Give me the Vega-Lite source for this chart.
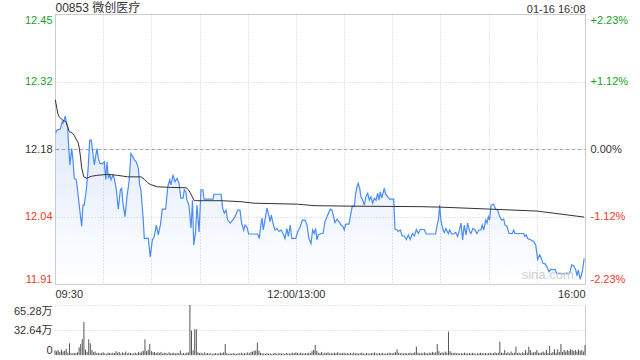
{
 "$schema": "https://vega.github.io/schema/vega-lite/v6.json",
 "background": "white",
 "padding": {"left": 13, "top": 0, "right": 5, "bottom": 4},
 "spacing": 21,
 "bounds": "flush",
 "config": {
  "font": "Liberation Sans",
  "view": {"stroke": "#cccccc"},
  "axis": {"labelFont": "Liberation Sans, Noto Sans CJK SC", "labelFontSize": 11, "labelColor": "#333333", "title": null, "ticks": false, "domain": false}
 },
 "datasets": {
  "price": [
   {"t":0.4,"p":12.212},{"t":1.2,"p":12.218},{"t":3.3,"p":12.220},{"t":4.4,"p":12.235},{"t":5.0,"p":12.232},{"t":5.8,"p":12.240},{"t":6.4,"p":12.246},{"t":7.0,"p":12.235},{"t":7.9,"p":12.225},{"t":8.5,"p":12.185},
   {"t":9.3,"p":12.148},{"t":10.4,"p":12.181},{"t":11.2,"p":12.158},{"t":12.0,"p":12.121},{"t":13.3,"p":12.118},{"t":14.5,"p":12.084},{"t":15.8,"p":12.047},{"t":16.6,"p":12.024},{"t":17.4,"p":12.067},{"t":18.2,"p":12.067},
   {"t":19.5,"p":12.098},{"t":20.7,"p":12.144},{"t":21.6,"p":12.198},{"t":22.6,"p":12.198},{"t":23.7,"p":12.168},{"t":24.5,"p":12.148},{"t":25.3,"p":12.165},{"t":26.1,"p":12.181},{"t":27.0,"p":12.161},{"t":28.0,"p":12.151},
   {"t":29.4,"p":12.150},{"t":30.7,"p":12.154},{"t":31.6,"p":12.118},{"t":32.4,"p":12.154},{"t":33.2,"p":12.121},{"t":34.1,"p":12.128},{"t":34.9,"p":12.118},{"t":36.1,"p":12.128},{"t":36.9,"p":12.121},{"t":38.2,"p":12.098},
   {"t":39.4,"p":12.059},{"t":40.7,"p":12.098},{"t":41.5,"p":12.101},{"t":42.3,"p":12.071},{"t":43.6,"p":12.044},{"t":44.8,"p":12.084},{"t":46.1,"p":12.114},{"t":47.3,"p":12.171},{"t":48.4,"p":12.165},{"t":49.4,"p":12.158},
   {"t":50.6,"p":12.154},{"t":51.9,"p":12.141},{"t":52.7,"p":12.108},{"t":53.5,"p":12.098},{"t":54.8,"p":12.044},{"t":55.6,"p":12.000},{"t":58.1,"p":12.000},{"t":59.3,"p":11.963},{"t":60.6,"p":11.997},{"t":61.8,"p":12.004},
   {"t":63.1,"p":12.027},{"t":64.3,"p":12.007},{"t":65.6,"p":12.027},{"t":66.8,"p":12.059},{"t":68.9,"p":12.059},{"t":70.2,"p":12.104},{"t":71.4,"p":12.118},{"t":72.2,"p":12.108},{"t":73.5,"p":12.128},{"t":74.7,"p":12.114},
   {"t":76.0,"p":12.121},{"t":77.2,"p":12.111},{"t":78.4,"p":12.081},{"t":79.7,"p":12.081},{"t":80.5,"p":12.098},{"t":81.4,"p":12.094},{"t":82.2,"p":12.077},{"t":83.4,"p":12.067},{"t":84.7,"p":12.021},{"t":85.6,"p":12.077},
   {"t":86.4,"p":11.987},{"t":87.5,"p":12.013},{"t":88.4,"p":12.067},{"t":89.7,"p":12.013},{"t":90.9,"p":12.098},{"t":92.1,"p":12.098},{"t":92.8,"p":12.079},{"t":98.4,"p":12.079},{"t":99.0,"p":12.089},{"t":103.4,"p":12.089},
   {"t":104.4,"p":12.061},{"t":105.4,"p":12.051},{"t":106.5,"p":12.057},{"t":107.5,"p":12.037},{"t":109.1,"p":12.031},{"t":110.6,"p":12.037},{"t":112.1,"p":12.044},{"t":113.8,"p":12.057},{"t":115.2,"p":12.057},{"t":116.2,"p":12.031},
   {"t":117.5,"p":12.017},{"t":118.3,"p":12.027},{"t":119.4,"p":12.024},{"t":120.6,"p":12.009},{"t":126.2,"p":12.009},{"t":127.2,"p":12.000},{"t":128.3,"p":12.031},{"t":128.9,"p":12.041},{"t":129.7,"p":12.017},{"t":130.7,"p":12.037},
   {"t":132.0,"p":12.061},{"t":132.8,"p":12.051},{"t":133.9,"p":12.034},{"t":134.7,"p":12.047},{"t":135.7,"p":12.031},{"t":137.0,"p":12.017},{"t":138.2,"p":12.020},{"t":139.5,"p":12.014},{"t":140.7,"p":12.017},{"t":142.0,"p":12.010},
   {"t":143.2,"p":12.000},{"t":144.4,"p":12.020},{"t":145.3,"p":12.004},{"t":146.5,"p":12.027},{"t":147.4,"p":12.000},{"t":150.0,"p":12.000},{"t":151.1,"p":12.014},{"t":152.3,"p":12.020},{"t":154.0,"p":12.037},{"t":155.7,"p":12.037},
   {"t":156.9,"p":12.027},{"t":158.1,"p":12.000},{"t":159.4,"p":11.990},{"t":160.4,"p":12.017},{"t":161.4,"p":12.010},{"t":162.3,"p":12.020},{"t":163.1,"p":11.997},{"t":163.9,"p":12.007},{"t":165.6,"p":12.010},{"t":166.9,"p":12.010},
   {"t":168.1,"p":12.034},{"t":169.8,"p":12.047},{"t":171.4,"p":12.059},{"t":172.5,"p":12.057},{"t":173.5,"p":12.044},{"t":174.3,"p":12.032},{"t":175.6,"p":12.039},{"t":176.8,"p":12.034},{"t":178.1,"p":12.027},{"t":179.3,"p":12.024},
   {"t":180.1,"p":12.017},{"t":181.0,"p":12.029},{"t":183.0,"p":12.029},{"t":183.9,"p":12.044},{"t":185.1,"p":12.065},{"t":186.4,"p":12.065},{"t":187.2,"p":12.091},{"t":188.0,"p":12.104},{"t":188.8,"p":12.111},{"t":189.7,"p":12.101},
   {"t":190.5,"p":12.084},{"t":191.6,"p":12.077},{"t":192.6,"p":12.067},{"t":193.6,"p":12.084},{"t":194.7,"p":12.091},{"t":195.7,"p":12.077},{"t":196.7,"p":12.084},{"t":197.8,"p":12.071},{"t":198.8,"p":12.081},{"t":199.9,"p":12.077},
   {"t":200.9,"p":12.091},{"t":201.7,"p":12.077},{"t":202.5,"p":12.094},{"t":203.4,"p":12.081},{"t":204.2,"p":12.091},{"t":205.0,"p":12.101},{"t":205.9,"p":12.089},{"t":207.1,"p":12.084},{"t":208.4,"p":12.079},{"t":210.9,"p":12.079},
   {"t":211.7,"p":12.018},{"t":212.9,"p":12.018},{"t":213.7,"p":12.014},{"t":215.0,"p":12.017},{"t":216.2,"p":12.005},{"t":217.5,"p":12.005},{"t":218.7,"p":11.998},{"t":220.0,"p":12.007},{"t":221.2,"p":11.998},{"t":222.5,"p":12.010},
   {"t":223.7,"p":12.005},{"t":225.0,"p":12.018},{"t":226.2,"p":12.010},{"t":227.4,"p":12.018},{"t":229.9,"p":12.018},{"t":231.2,"p":12.009},{"t":237.0,"p":12.009},{"t":237.8,"p":12.025},{"t":238.9,"p":12.041},{"t":239.5,"p":12.067},
   {"t":240.3,"p":12.037},{"t":241.4,"p":12.020},{"t":242.4,"p":12.012},{"t":243.4,"p":12.020},{"t":244.9,"p":12.010},{"t":245.7,"p":12.017},{"t":247.0,"p":12.009},{"t":248.2,"p":12.009},{"t":249.5,"p":12.012},{"t":250.7,"p":12.004},
   {"t":252.0,"p":12.020},{"t":252.8,"p":12.031},{"t":253.8,"p":11.997},{"t":254.8,"p":12.027},{"t":255.9,"p":12.007},{"t":256.9,"p":12.031},{"t":258.2,"p":12.014},{"t":259.0,"p":12.010},{"t":260.2,"p":12.020},{"t":261.5,"p":12.017},
   {"t":262.7,"p":12.010},{"t":264.0,"p":12.017},{"t":265.2,"p":12.017},{"t":266.0,"p":12.027},{"t":266.9,"p":12.017},{"t":268.2,"p":12.037},{"t":269.0,"p":12.031},{"t":269.8,"p":12.044},{"t":270.6,"p":12.037},{"t":271.5,"p":12.067},
   {"t":273.1,"p":12.069},{"t":274.4,"p":12.059},{"t":275.6,"p":12.057},{"t":276.9,"p":12.044},{"t":278.1,"p":12.037},{"t":279.4,"p":12.039},{"t":280.2,"p":12.027},{"t":281.4,"p":12.025},{"t":282.7,"p":12.010},{"t":284.7,"p":12.010},
   {"t":285.6,"p":12.017},{"t":286.4,"p":12.010},{"t":291.8,"p":12.010},{"t":292.6,"p":12.004},{"t":293.4,"p":12.007},{"t":294.3,"p":12.000},{"t":296.4,"p":11.997},{"t":298.0,"p":11.994},{"t":299.3,"p":11.987},{"t":300.5,"p":11.958},
   {"t":301.8,"p":11.967},{"t":302.6,"p":11.962},{"t":303.8,"p":11.950},{"t":305.1,"p":11.949},{"t":306.3,"p":11.943},{"t":307.6,"p":11.933},{"t":308.8,"p":11.938},{"t":310.1,"p":11.937},{"t":311.3,"p":11.938},{"t":312.5,"p":11.929},
   {"t":320.4,"p":11.929},{"t":321.7,"p":11.947},{"t":322.9,"p":11.945},{"t":324.2,"p":11.937},{"t":325.0,"p":11.925},{"t":325.8,"p":11.937},{"t":327.0,"p":11.918},{"t":328.3,"p":11.933},{"t":329.5,"p":11.960}
  ],
  "avg": [
   {"t":0.2,"a":12.279},{"t":1.7,"a":12.252},{"t":2.5,"a":12.245},{"t":4.8,"a":12.238},{"t":6.8,"a":12.235},{"t":7.9,"a":12.224},{"t":8.9,"a":12.215},{"t":10.8,"a":12.212},{"t":12.0,"a":12.207},{"t":13.1,"a":12.200},
   {"t":14.5,"a":12.192},{"t":15.3,"a":12.178},{"t":15.8,"a":12.166},{"t":16.6,"a":12.142},{"t":17.9,"a":12.124},{"t":19.9,"a":12.121},{"t":22.4,"a":12.125},{"t":26.1,"a":12.127},{"t":32.8,"a":12.129},{"t":39.0,"a":12.127},
   {"t":45.3,"a":12.124},{"t":53.5,"a":12.124},{"t":55.6,"a":12.119},{"t":57.7,"a":12.112},{"t":59.8,"a":12.108},{"t":63.9,"a":12.104},{"t":70.2,"a":12.103},{"t":81.6,"a":12.102},{"t":83.1,"a":12.098},{"t":84.7,"a":12.089},
   {"t":86.7,"a":12.076},{"t":103.4,"a":12.076},{"t":115.8,"a":12.074},{"t":123.9,"a":12.071},{"t":151.1,"a":12.069},{"t":161.4,"a":12.066},{"t":184.3,"a":12.065},{"t":227.9,"a":12.064},{"t":240.3,"a":12.063},{"t":271.5,"a":12.059},
   {"t":300.5,"a":12.055},{"t":315.0,"a":12.049},{"t":329.5,"a":12.043}
  ],
  "vol": [
   {"t":0,"v":6.0},{"t":1,"v":5.0},{"t":2,"v":6.5},{"t":3,"v":4.0},{"t":4,"v":7.0},{"t":5,"v":4.5},{"t":6,"v":5.5},{"t":7,"v":8.0},{"t":8,"v":3.0},{"t":9,"v":15.2},
   {"t":10,"v":2.5},{"t":11,"v":2.0},{"t":12,"v":3.0},{"t":13,"v":2.5},{"t":14,"v":3.5},{"t":15,"v":10.0},{"t":16,"v":14.4},{"t":17,"v":20.5},{"t":18,"v":43.1},{"t":19,"v":7.0},
   {"t":20,"v":4.0},{"t":21,"v":20.5},{"t":22,"v":15.2},{"t":23,"v":6.5},{"t":24,"v":3.5},{"t":25,"v":4.5},{"t":26,"v":2.5},{"t":27,"v":3.0},{"t":28,"v":2.0},{"t":29,"v":2.5},
   {"t":30,"v":3.5},{"t":31,"v":2.0},{"t":32,"v":1.5},{"t":33,"v":3.0},{"t":34,"v":2.5},{"t":35,"v":2.0},{"t":36,"v":3.0},{"t":37,"v":2.5},{"t":38,"v":5.0},{"t":39,"v":3.0},
   {"t":40,"v":4.0},{"t":41,"v":1.8},{"t":42,"v":3.5},{"t":43,"v":2.5},{"t":44,"v":4.5},{"t":45,"v":2.0},{"t":46,"v":3.0},{"t":47,"v":2.5},{"t":48,"v":1.8},{"t":49,"v":2.2},
   {"t":50,"v":3.0},{"t":51,"v":2.0},{"t":52,"v":4.0},{"t":53,"v":3.0},{"t":54,"v":4.5},{"t":55,"v":5.5},{"t":56,"v":20.5},{"t":57,"v":5.0},{"t":58,"v":6.5},{"t":59,"v":14.4},
   {"t":60,"v":5.0},{"t":61,"v":3.5},{"t":62,"v":4.0},{"t":63,"v":2.5},{"t":64,"v":3.5},{"t":65,"v":2.5},{"t":66,"v":4.0},{"t":67,"v":2.0},{"t":68,"v":3.0},{"t":69,"v":2.5},
   {"t":70,"v":1.8},{"t":71,"v":3.5},{"t":72,"v":2.2},{"t":73,"v":2.5},{"t":74,"v":3.0},{"t":75,"v":2.0},{"t":76,"v":2.5},{"t":77,"v":2.2},{"t":78,"v":5.5},{"t":79,"v":2.0},
   {"t":80,"v":2.5},{"t":81,"v":2.0},{"t":82,"v":3.0},{"t":83,"v":3.5},{"t":84,"v":65.28},{"t":85,"v":31.8},{"t":86,"v":6.0},{"t":87,"v":33.5},{"t":88,"v":33.5},{"t":89,"v":3.5},
   {"t":90,"v":2.5},{"t":91,"v":3.0},{"t":92,"v":2.0},{"t":93,"v":3.5},{"t":94,"v":2.0},{"t":95,"v":2.5},{"t":96,"v":1.8},{"t":97,"v":2.2},{"t":98,"v":1.5},{"t":99,"v":2.0},
   {"t":100,"v":2.5},{"t":101,"v":1.8},{"t":102,"v":2.0},{"t":103,"v":3.0},{"t":104,"v":2.5},{"t":105,"v":3.5},{"t":106,"v":14.4},{"t":107,"v":2.5},{"t":108,"v":1.5},{"t":109,"v":2.0},
   {"t":110,"v":1.8},{"t":111,"v":2.5},{"t":112,"v":2.0},{"t":113,"v":1.5},{"t":114,"v":2.2},{"t":115,"v":2.0},{"t":116,"v":3.0},{"t":117,"v":1.8},{"t":118,"v":2.5},{"t":119,"v":2.0},
   {"t":120,"v":3.5},{"t":121,"v":2.0},{"t":122,"v":4.0},{"t":123,"v":4.5},{"t":124,"v":5.5},{"t":125,"v":6.0},{"t":126,"v":16.1},{"t":127,"v":5.5},{"t":128,"v":3.0},{"t":129,"v":2.0},
   {"t":130,"v":2.0},{"t":131,"v":1.5},{"t":132,"v":2.5},{"t":133,"v":1.8},{"t":134,"v":2.2},{"t":135,"v":1.5},{"t":136,"v":2.0},{"t":137,"v":2.8},{"t":138,"v":1.6},{"t":139,"v":2.0},
   {"t":140,"v":2.4},{"t":141,"v":1.8},{"t":142,"v":2.0},{"t":143,"v":1.5},{"t":144,"v":2.6},{"t":145,"v":2.0},{"t":146,"v":1.8},{"t":147,"v":2.2},{"t":148,"v":3.0},{"t":149,"v":2.5},
   {"t":150,"v":3.5},{"t":151,"v":2.5},{"t":152,"v":2.0},{"t":153,"v":3.0},{"t":154,"v":2.2},{"t":155,"v":1.8},{"t":156,"v":2.5},{"t":157,"v":2.0},{"t":158,"v":3.0},{"t":159,"v":2.5},
   {"t":160,"v":5.0},{"t":161,"v":6.5},{"t":162,"v":13.0},{"t":163,"v":5.5},{"t":164,"v":3.0},{"t":165,"v":2.5},{"t":166,"v":4.0},{"t":167,"v":2.0},{"t":168,"v":3.0},{"t":169,"v":2.5},
   {"t":170,"v":3.5},{"t":171,"v":2.0},{"t":172,"v":2.8},{"t":173,"v":2.0},{"t":174,"v":3.0},{"t":175,"v":2.5},{"t":176,"v":3.5},{"t":177,"v":1.8},{"t":178,"v":2.5},{"t":179,"v":2.2},
   {"t":180,"v":3.0},{"t":181,"v":2.0},{"t":182,"v":2.6},{"t":183,"v":1.8},{"t":184,"v":2.4},{"t":185,"v":2.0},{"t":186,"v":3.2},{"t":187,"v":2.0},{"t":188,"v":2.5},{"t":189,"v":1.8},
   {"t":190,"v":2.2},{"t":191,"v":3.0},{"t":192,"v":2.0},{"t":193,"v":1.6},{"t":194,"v":2.4},{"t":195,"v":2.0},{"t":196,"v":1.8},{"t":197,"v":2.6},{"t":198,"v":2.0},{"t":199,"v":3.4},
   {"t":200,"v":2.2},{"t":201,"v":1.8},{"t":202,"v":2.5},{"t":203,"v":2.0},{"t":204,"v":2.8},{"t":205,"v":1.6},{"t":206,"v":2.2},{"t":207,"v":2.0},{"t":208,"v":3.0},{"t":209,"v":2.4},
   {"t":210,"v":2.0},{"t":211,"v":3.0},{"t":212,"v":3.5},{"t":213,"v":7.4},{"t":214,"v":3.0},{"t":215,"v":2.2},{"t":216,"v":2.5},{"t":217,"v":1.8},{"t":218,"v":2.6},{"t":219,"v":2.0},
   {"t":220,"v":2.4},{"t":221,"v":3.0},{"t":222,"v":2.0},{"t":223,"v":2.5},{"t":224,"v":3.5},{"t":225,"v":10.9},{"t":226,"v":3.0},{"t":227,"v":2.2},{"t":228,"v":2.8},{"t":229,"v":2.0},
   {"t":230,"v":3.5},{"t":231,"v":2.4},{"t":232,"v":2.0},{"t":233,"v":3.0},{"t":234,"v":2.5},{"t":235,"v":4.0},{"t":236,"v":3.0},{"t":237,"v":3.5},{"t":238,"v":14.4},{"t":239,"v":5.0},
   {"t":240,"v":2.5},{"t":241,"v":3.5},{"t":242,"v":2.8},{"t":243,"v":4.5},{"t":244,"v":3.0},{"t":245,"v":30.5},{"t":246,"v":5.0},{"t":247,"v":3.0},{"t":248,"v":2.5},{"t":249,"v":3.0},
   {"t":250,"v":2.0},{"t":251,"v":2.6},{"t":252,"v":1.8},{"t":253,"v":2.4},{"t":254,"v":2.0},{"t":255,"v":3.0},{"t":256,"v":2.2},{"t":257,"v":1.8},{"t":258,"v":2.5},{"t":259,"v":2.0},
   {"t":260,"v":2.8},{"t":261,"v":2.2},{"t":262,"v":1.6},{"t":263,"v":2.4},{"t":264,"v":2.0},{"t":265,"v":3.0},{"t":266,"v":2.5},{"t":267,"v":2.0},{"t":268,"v":2.6},{"t":269,"v":1.8},
   {"t":270,"v":2.4},{"t":271,"v":3.0},{"t":272,"v":2.0},{"t":273,"v":2.5},{"t":274,"v":3.5},{"t":275,"v":2.5},{"t":276,"v":3.0},{"t":277,"v":17.4},{"t":278,"v":3.0},{"t":279,"v":2.5},
   {"t":280,"v":6.5},{"t":281,"v":2.5},{"t":282,"v":3.5},{"t":283,"v":2.0},{"t":284,"v":4.5},{"t":285,"v":2.5},{"t":286,"v":3.0},{"t":287,"v":10.9},{"t":288,"v":2.5},{"t":289,"v":3.0},
   {"t":290,"v":2.0},{"t":291,"v":3.5},{"t":292,"v":2.5},{"t":293,"v":6.5},{"t":294,"v":3.0},{"t":295,"v":10.9},{"t":296,"v":6.5},{"t":297,"v":3.0},{"t":298,"v":3.5},{"t":299,"v":4.0},
   {"t":300,"v":6.5},{"t":301,"v":3.0},{"t":302,"v":2.5},{"t":303,"v":3.5},{"t":304,"v":4.5},{"t":305,"v":3.0},{"t":306,"v":6.5},{"t":307,"v":2.5},{"t":308,"v":11.8},{"t":309,"v":2.5},
   {"t":310,"v":4.0},{"t":311,"v":7.4},{"t":312,"v":3.0},{"t":313,"v":7.4},{"t":314,"v":4.0},{"t":315,"v":14.4},{"t":316,"v":4.0},{"t":317,"v":6.5},{"t":318,"v":4.5},{"t":319,"v":6.5},
   {"t":320,"v":5.0},{"t":321,"v":7.4},{"t":322,"v":6.5},{"t":323,"v":5.0},{"t":324,"v":6.5},{"t":325,"v":4.5},{"t":326,"v":7.4},{"t":327,"v":5.5},{"t":328,"v":6.5},{"t":329,"v":4.5},
   {"t":330,"v":13.0}
  ]
 },
 "vconcat": [
  {
   "width": 530,
   "height": 270,
   "layer": [
    {
     "data": {"name": "price"},
     "mark": {"type": "area", "color": {"gradient": "linear", "x1": 0, "y1": 0, "x2": 0, "y2": 1, "stops": [{"offset": 0, "color": "rgba(70,130,230,0.18)"}, {"offset": 1, "color": "rgba(70,130,230,0.0)"}]}},
     "encoding": {
      "x": {"field": "t", "type": "quantitative", "scale": {"domain": [0, 330], "nice": false, "zero": false},
       "axis": {"orient": "bottom", "values": [0, 30, 60, 90, 120, 150, 180, 210, 240, 270, 300, 330], "labelExpr": "datum.value == 0 ? '09:30' : datum.value == 150 ? '12:00/13:00' : datum.value == 330 ? '16:00' : ''", "labelFlush": true, "labelOverlap": false, "labelPadding": 4, "grid": true, "gridColor": "#cccccc", "gridDash": [1, 2]}},
      "y": {"field": "p", "type": "quantitative", "scale": {"domain": [11.9084, 12.4516], "nice": false, "zero": false},
       "axis": {"orient": "left", "values": [11.9084, 12.0442, 12.18, 12.3158, 12.4516], "format": ".2f", "labelFlush": true, "labelPadding": 3,
        "labelColor": {"condition": [{"test": "datum.value > 12.2", "value": "#1a9f2c"}, {"test": "datum.value < 12.1", "value": "#f0382c"}], "value": "#333333"},
        "grid": true, "gridColor": {"condition": {"test": "abs(datum.value - 12.18) < 0.001", "value": "#aaaaaa"}, "value": "#cccccc"},
        "gridDash": {"condition": {"test": "abs(datum.value - 12.18) < 0.001", "value": [4, 2]}, "value": [1, 2]}}},
      "y2": {"datum": 11.9084}
     }
    },
    {
     "data": {"name": "price"},
     "mark": {"type": "line", "color": "#4a8cf0", "strokeWidth": 1.2},
     "encoding": {
      "x": {"field": "t", "type": "quantitative", "scale": {"domain": [0, 330], "nice": false, "zero": false}, "axis": null},
      "y": {"field": "p", "type": "quantitative", "scale": {"domain": [11.9084, 12.4516], "nice": false, "zero": false}, "axis": null}
     }
    },
    {
     "data": {"name": "avg"},
     "mark": {"type": "line", "color": "#333333", "strokeWidth": 1},
     "encoding": {
      "x": {"field": "t", "type": "quantitative", "scale": {"domain": [0, 330], "nice": false, "zero": false},
       "axis": {"orient": "top", "values": [0, 330], "labelExpr": "datum.value == 0 ? '00853 微创医疗' : '01-16 16:08'", "labelFlush": true, "labelOverlap": false, "labelPadding": 0, "grid": false,
        "labelFontSize": {"condition": {"test": "datum.value == 0", "value": 12}, "value": 11}}},
      "y": {"field": "a", "type": "quantitative", "scale": {"domain": [11.9084, 12.4516], "nice": false, "zero": false},
       "axis": {"orient": "right", "values": [11.9084, 12.0442, 12.18, 12.3158, 12.4516], "labelFlush": true, "labelPadding": 5, "grid": false,
        "labelExpr": "datum.value > 12.4 ? '+2.23%' : datum.value > 12.3 ? '+1.12%' : datum.value > 12.1 ? '0.00%' : datum.value > 12 ? '-1.12%' : '-2.23%'",
        "labelColor": {"condition": [{"test": "datum.value > 12.2", "value": "#1a9f2c"}, {"test": "datum.value < 12.1", "value": "#f0382c"}], "value": "#333333"}}}
     }
    },
    {
     "data": {"values": [{"t": 323, "p": 11.912, "label": "sina.com"}]},
     "mark": {"type": "text", "align": "right", "baseline": "bottom", "color": "#cfcfcf", "fontSize": 13},
     "encoding": {
      "x": {"field": "t", "type": "quantitative", "scale": {"domain": [0, 330], "nice": false, "zero": false}, "axis": null},
      "y": {"field": "p", "type": "quantitative", "scale": {"domain": [11.9084, 12.4516], "nice": false, "zero": false}, "axis": null},
      "text": {"field": "label"}
     }
    }
   ],
   "resolve": {"scale": {"x": "independent", "y": "independent"}}
  },
  {
   "width": 530,
   "height": 50,
   "view": {"stroke": null},
   "data": {"name": "vol"},
   "mark": {"type": "rule", "color": "#555555", "strokeWidth": 1},
   "encoding": {
    "x": {"field": "t", "type": "quantitative", "scale": {"domain": [0, 330], "nice": false, "zero": false},
     "axis": {"values": [330], "labels": false, "grid": true, "gridColor": "#cccccc", "gridDash": []}},
    "y": {"field": "v", "type": "quantitative", "scale": {"domain": [0, 65.28], "nice": false},
     "axis": {"values": [0, 32.64, 65.28], "labelExpr": "datum.value == 0 ? '0' : format(datum.value, '.2f') + '万'", "labelFlush": true, "labelPadding": 3, "grid": true, "gridColor": "#cccccc", "gridDash": [1, 2]}},
    "y2": {"datum": 0}
   }
  }
 ]
}
